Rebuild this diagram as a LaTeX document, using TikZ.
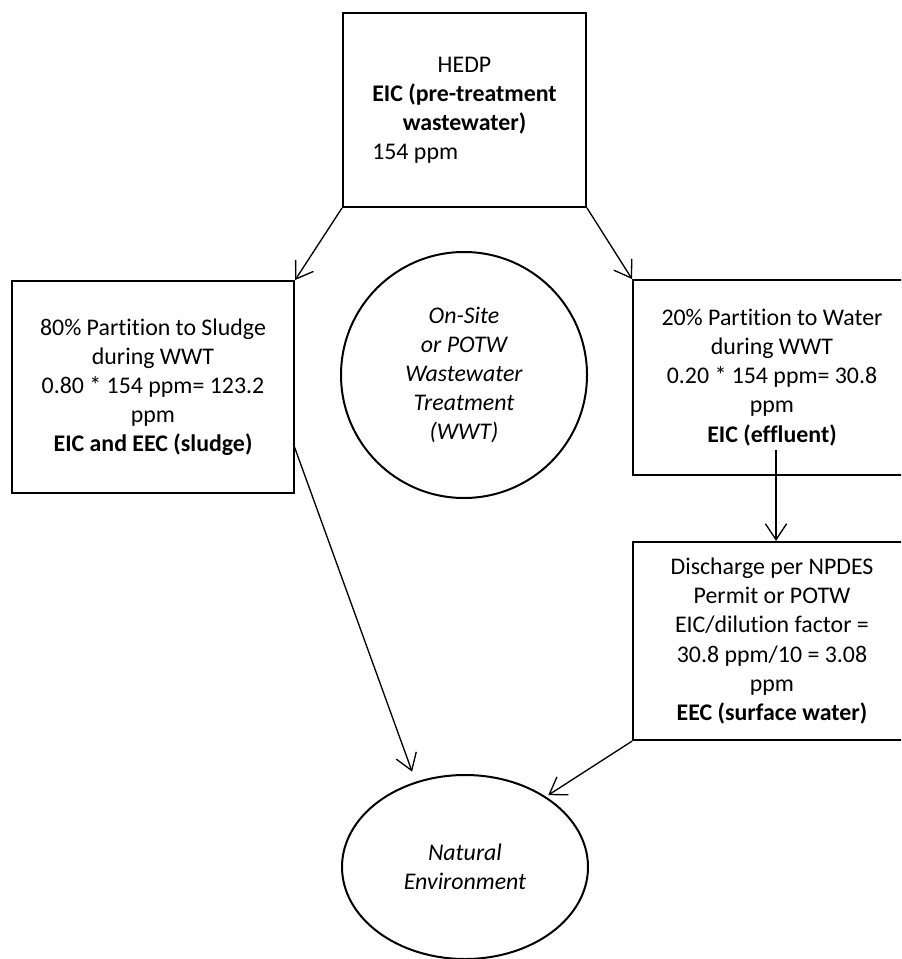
\documentclass[tikz,border=0pt]{standalone}
\usepackage{fontspec}
\setmainfont{Carlito}[Ligatures=NoCommon]
\usepackage{calc}
\usetikzlibrary{arrows.meta,shapes.geometric}
\begin{document}
\begin{tikzpicture}[x=0.75pt,y=-0.75pt,
  txt/.style={font=\fontsize{17.9pt}{21.8pt}\selectfont},
  box/.style={txt,draw,line width=1.5pt,rectangle,inner sep=0pt,align=center},
  oval/.style={txt,draw,line width=1.5pt,ellipse,inner sep=0pt,align=center,font=\fontsize{17.9pt}{21.8pt}\selectfont\itshape},
  conn/.style={line width=1pt,-{Straight Barb[length=12pt,width=16pt]}}]
\useasboundingbox (0,0) rectangle (901,959);
\clip (0,0) rectangle (901,959);

\node[box,minimum width=182.25pt,minimum height=145.5pt] (top) at (464.5,110)
  {HEDP\\ \textbf{EIC (pre-treatment}\\ \textbf{wastewater)}\\
   \makebox[\widthof{\textbf{EIC (pre-treatment}}][l]{154 ppm}};

\node[box,minimum width=211.7pt,minimum height=159pt] (sludge) at (153,387)
  {80\% Partition to Sludge\\ during WWT\\ 0.80 * 154 ppm= 123.2\\ ppm\\ \textbf{EIC and EEC (sludge)}};

\node[oval,circle,minimum size=184.5pt] (wwt) at (464,375)
  {On-Site\\ or POTW\\ Wastewater\\ Treatment\\ (WWT)};

\node[box,minimum width=208.5pt,minimum height=146.25pt] (water) at (772,377.5)
  {20\% Partition to Water\\ during WWT\\ 0.20 * 154 ppm= 30.8\\ ppm\\ \textbf{EIC (effluent)}};

\node[box,minimum width=208.5pt,minimum height=148.7pt] (disch) at (772,641)
  {Discharge per NPDES\\ Permit or POTW\\ EIC/dilution factor =\\ 30.8 ppm/10 = 3.08\\ ppm\\ \textbf{EEC (surface water)}};

\node[oval,minimum width=184.5pt,minimum height=138pt] (nat) at (465,867)
  {Natural\\ Environment};

\coordinate (effout) at (776,450);
\coordinate (sludgeout) at (294.5,447);

\draw[conn] (top.south west) -- (sludge.north east);
\draw[conn] (top.south east) -- (water.north west);
\draw[conn] (effout) -- (effout |- disch.north);
\draw[conn,shorten >=8pt] (sludgeout) -- (nat.120);
\draw[conn,shorten >=2pt] (disch.south west) -- (nat.41);
\end{tikzpicture}
\end{document}
